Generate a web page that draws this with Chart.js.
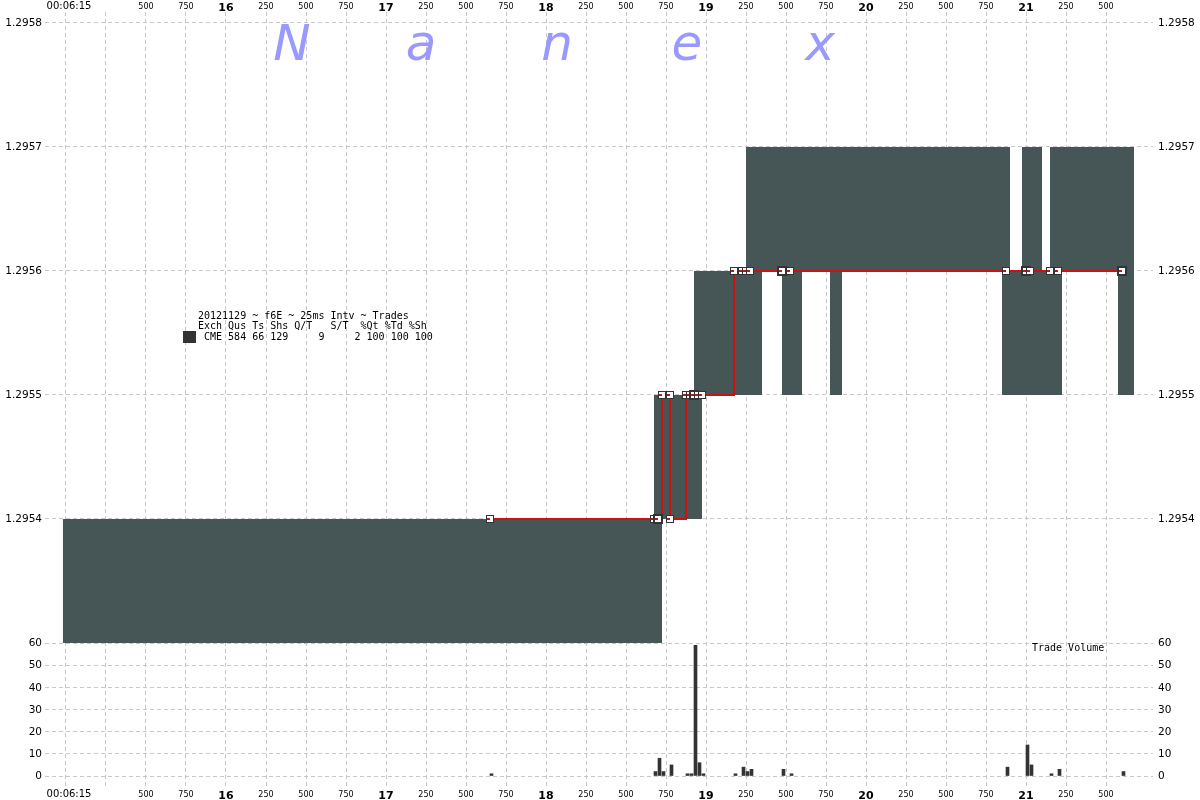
<!DOCTYPE html>
<html>
<head>
<meta charset="utf-8">
<script src="https://cdn.jsdelivr.net/npm/chart.js@4.4.1/dist/chart.umd.min.js"></script>
<style>
  html, body { margin: 0; padding: 0; background: #fff; }
</style>
</head>
<body>
<canvas id="grafica" width="1200" height="800"></canvas>
<script>
// times are seconds after 00:06:00

// quote blocks (bid..ask range per run of 25ms intervals)
var quoteStart = [14.98, 18.675, 18.925, 19.25, 20.975, 21.15, 19.475, 19.775, 20.85, 21.575];
var quoteEnd   = [18.725, 18.975, 19.35, 20.90, 21.10, 21.675, 19.60, 19.85, 21.225, 21.675];
var quoteLow   = [1.2953, 1.2954, 1.2955, 1.2956, 1.2956, 1.2956, 1.2955, 1.2955, 1.2955, 1.2955];
var quoteHigh  = [1.2954, 1.2955, 1.2956, 1.2957, 1.2957, 1.2957, 1.2956, 1.2956, 1.2956, 1.2956];

// trades
var tradeTime  = [17.65, 18.675, 18.70, 18.725, 18.775, 18.775, 18.875, 18.90, 18.925, 18.95, 18.975,
                  19.175, 19.225, 19.25, 19.275, 19.475, 19.525, 20.875, 21.00, 21.025, 21.15, 21.20, 21.60];
var tradePrice = [1.2954, 1.2954, 1.2954, 1.2955, 1.2955, 1.2954, 1.2955, 1.2955, 1.2955, 1.2955, 1.2955,
                  1.2956, 1.2956, 1.2956, 1.2956, 1.2956, 1.2956, 1.2956, 1.2956, 1.2956, 1.2956, 1.2956, 1.2956];
var tradeBig   = [0, 0, 1, 0, 0, 0, 0, 0, 1, 0, 0, 0, 0, 0, 0, 1, 0, 0, 1, 0, 0, 0, 1];

// trade volume per 25ms interval (bar centre times)
var volTime   = [17.6594, 18.6844, 18.7094, 18.7344, 18.7844, 18.8844, 18.9094, 18.9344, 18.9594, 18.9844,
                 19.1844, 19.2344, 19.2594, 19.2844, 19.4844, 19.5344, 20.8844, 21.0094, 21.0344, 21.1594, 21.2094, 21.6094];
var volShares = [1, 2, 8, 2, 5, 1, 1, 59, 6, 1, 1, 4, 2, 3, 3, 1, 4, 14, 5, 1, 3, 2];

// axis ticks
var xTicks = [15, 15.25, 15.5, 15.75, 16, 16.25, 16.5, 16.75, 17, 17.25, 17.5, 17.75, 18, 18.25, 18.5, 18.75,
              19, 19.25, 19.5, 19.75, 20, 20.25, 20.5, 20.75, 21, 21.25, 21.5];
var xTickLabels = ['00:06:15', '', '500', '750', '16', '250', '500', '750', '17', '250', '500', '750', '18', '250', '500', '750',
                   '19', '250', '500', '750', '20', '250', '500', '750', '21', '250', '500'];
var priceTicks = [1.2954, 1.2955, 1.2956, 1.2957, 1.2958];
var volTicks = [0, 10, 20, 30, 40, 50, 60];

var legendLines = ['20121129 ~ f6E ~ 25ms Intv ~ Trades',
                   'Exch Qus Ts Shs Q/T   S/T  %Qt %Td %Sh',
                   ' CME 584 66 129     9     2 100 100 100'];

var ROJO = '#cc1111';
var GRIS = '#465555';
var GRID = '#c8c8c8';

function marcador(size, grueso) {
    var c = document.createElement('canvas');
    c.width = size; c.height = size;
    var g = c.getContext('2d');
    g.fillStyle = '#fff';
    g.fillRect(0, 0, size, size);
    g.strokeStyle = '#333';
    g.lineWidth = grueso;
    g.strokeRect(grueso / 2, grueso / 2, size - grueso, size - grueso);
    g.fillStyle = ROJO;
    g.fillRect(grueso, size / 2 - 1, size / 2 - grueso, 2);
    return c;
}
var marcaChica = marcador(8, 1);
var marcaGrande = marcador(10, 2);

var datasets = [];
for (var i = 0; i < quoteStart.length; i++) {
    datasets.push({
        type: 'line',
        yAxisID: 'y',
        order: 3,
        data: [{x: quoteStart[i], y: quoteHigh[i]}, {x: quoteEnd[i], y: quoteHigh[i]}],
        fill: {value: quoteLow[i]},
        backgroundColor: GRIS,
        borderColor: 'rgba(0,0,0,0)',
        borderWidth: 0,
        pointRadius: 0,
        tension: 0
    });
}
datasets.push({
    type: 'bar',
    yAxisID: 'yv',
    order: 2,
    data: volTime.map(function (t, i) { return {x: t, y: volShares[i]}; }),
    backgroundColor: '#333333',
    borderWidth: 0,
    barThickness: 3
});
datasets.push({
    type: 'line',
    yAxisID: 'y',
    order: 1,
    data: tradeTime.map(function (t, i) { return {x: t, y: tradePrice[i]}; }),
    stepped: true,
    borderColor: ROJO,
    borderWidth: 2,
    fill: false,
    pointRadius: 4,
    pointStyle: function (ctx) { return tradeBig[ctx.dataIndex] ? marcaGrande : marcaChica; }
});

function ticksFijos(lista) {
    return function (s) { s.ticks = lista.map(function (v) { return {value: v}; }); };
}

var textos = {
    id: 'textos',
    afterDraw: function (chart) {
        var ctx = chart.ctx;
        var sx = chart.scales.x, sy = chart.scales.y, sv = chart.scales.yv;
        var area = chart.chartArea;
        ctx.save();
        ctx.fillStyle = '#000';

        // time labels, top and bottom
        ctx.textAlign = 'center';
        ctx.textBaseline = 'alphabetic';
        xTicks.forEach(function (t, i) {
            var lab = xTickLabels[i];
            if (!lab) return;
            var px = sx.getPixelForValue(t);
            var top, bot;
            if (lab.length > 3) {
                ctx.font = '10px "DejaVu Sans"'; px += 3; top = 8.5; bot = 797;
            } else if (lab.length === 3) {
                ctx.font = '8px "DejaVu Sans"'; top = 8.5; bot = 796.5;
            } else {
                ctx.font = 'bold 11px "DejaVu Sans"'; top = 10.5; bot = 798.5;
            }
            ctx.fillText(lab, px, top);
            ctx.fillText(lab, px, bot);
        });

        // value labels, left and right
        ctx.font = '10.5px "DejaVu Sans"';
        ctx.textBaseline = 'middle';
        priceTicks.forEach(function (p) {
            var py = sy.getPixelForValue(p) + 0.5;
            ctx.textAlign = 'right'; ctx.fillText(p.toFixed(4), area.left - 3, py);
            ctx.textAlign = 'left'; ctx.fillText(p.toFixed(4), area.right + 5, py);
        });
        volTicks.forEach(function (v) {
            var py = sv.getPixelForValue(v) + 0.5;
            ctx.textAlign = 'right'; ctx.fillText(String(v), area.left - 3, py);
            ctx.textAlign = 'left'; ctx.fillText(String(v), area.right + 5, py);
        });

        // watermark
        ctx.fillStyle = '#9999ff';
        ctx.font = 'italic 50px "DejaVu Sans"';
        ctx.textAlign = 'center';
        ctx.textBaseline = 'alphabetic';
        var letras = ['N', 'a', 'n', 'e', 'x'];
        var pos = [292, 421, 557, 687, 820];
        letras.forEach(function (l, i) { ctx.fillText(l, pos[i], 60); });

        // legend block
        ctx.fillStyle = '#333';
        ctx.fillRect(183, 331, 13, 12);
        ctx.fillStyle = '#000';
        ctx.font = '10px "DejaVu Sans Mono"';
        ctx.textAlign = 'left';
        ctx.textBaseline = 'middle';
        ctx.fillText(legendLines[0], 198, 316);
        ctx.fillText(legendLines[1], 198, 326.5);
        ctx.fillText(legendLines[2], 198, 337);

        ctx.fillText('Trade Volume', 1032, 648);
        ctx.restore();
    }
};

var grafica = new Chart(document.getElementById('grafica'), {
    type: 'line',
    data: {datasets: datasets},
    options: {
        responsive: false,
        animation: false,
        layout: {padding: {left: 45, right: 47, top: 12, bottom: 13}},
        plugins: {
            legend: {display: false},
            tooltip: {enabled: false}
        },
        scales: {
            x: {
                type: 'linear',
                min: 14.86875,   // 21px left of 00:06:15
                max: 21.79375,
                offset: false,
                afterBuildTicks: ticksFijos(xTicks),
                ticks: {display: false},
                grid: {color: GRID, drawTicks: false, offset: false},
                border: {display: false, dash: [4, 3]}
            },
            y: {
                type: 'linear',
                position: 'left',
                min: 1.29518387,
                max: 1.29580887,
                afterBuildTicks: ticksFijos(priceTicks),
                ticks: {display: false},
                grid: {color: GRID, drawTicks: false},
                border: {display: false, dash: [4, 3]}
            },
            yv: {
                type: 'linear',
                position: 'left',
                min: -4.962,
                max: 344.66,
                afterBuildTicks: ticksFijos(volTicks),
                ticks: {display: false},
                grid: {color: GRID, drawTicks: false},
                border: {display: false, dash: [4, 3]}
            }
        }
    },
    plugins: [textos]
});
</script>
</body>
</html>
